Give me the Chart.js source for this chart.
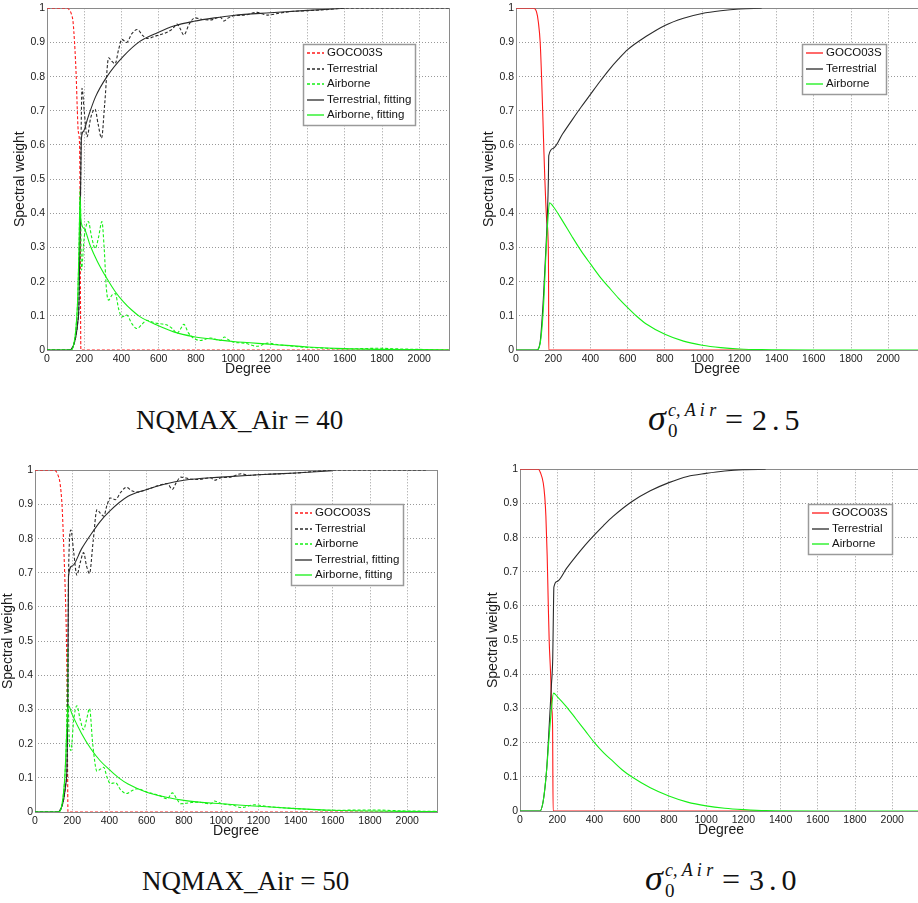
<!DOCTYPE html>
<html lang="en">
<head>
  <meta charset="UTF-8">
  <title>Spectral weights</title>
  <script src="https://cdn.jsdelivr.net/npm/chart.js"></script>
  <style>
    body { margin: 0; width: 918px; height: 903px; overflow: hidden; background: #fff; position: relative; }
    .panel { position: absolute; width: 460px; height: 380px; }
    .cap { position: absolute; font-family: "Liberation Serif", "DejaVu Serif", serif; color: #111; line-height: 1; white-space: pre; }
    .it { font-style: italic; }
  </style>
</head>
<body>
  <div class="panel" style="left:0px; top:0px;"><canvas id="nq40" width="460" height="380"></canvas></div>
  <div class="panel" style="left:469px; top:0px;"><canvas id="s25" width="460" height="380"></canvas></div>
  <div class="panel" style="left:-12px; top:462px;"><canvas id="nq50" width="460" height="380"></canvas></div>
  <div class="panel" style="left:473px; top:461px;"><canvas id="s30" width="460" height="380"></canvas></div>

  <div class="cap" style="left:136px; top:407px; font-size:27px;">NQMAX_Air = 40</div>
  <div class="cap" style="left:142px; top:868px; font-size:27px;">NQMAX_Air = 50</div>

  <!-- sigma_0^{c,Air} = 2.5 -->
  <span class="cap it" style="left:648px; top:400px; font-size:36px;">σ</span>
  <span class="cap" style="left:668px; top:421px; font-size:19px;">0</span>
  <span class="cap it" style="left:668px; top:401px; font-size:18px;">c, A i r</span>
  <span class="cap" style="left:725px; top:403px; font-size:32px;">=</span>
  <span class="cap" style="left:752px; top:405px; font-size:30px; letter-spacing:5px;">2.5</span>

  <!-- sigma_0^{c,Air} = 3.0 -->
  <span class="cap it" style="left:645px; top:860px; font-size:36px;">σ</span>
  <span class="cap" style="left:665px; top:881px; font-size:19px;">0</span>
  <span class="cap it" style="left:665px; top:861px; font-size:18px;">c, A i r</span>
  <span class="cap" style="left:722px; top:863px; font-size:32px;">=</span>
  <span class="cap" style="left:749px; top:865px; font-size:30px; letter-spacing:5px;">3.0</span>

  <script>
    // [degree, spectral weight] pairs

    // NQMAX_Air = 40
    const nq40Goco = [[0,1],[110,1],[120,0.995],[130,0.985],[140,0.96],[148,0.9],[153,0.85],[157,0.8],[163,0.7],[168,0.64],[175,0.6],[178,0.4],[180,0.14],[182,0],[2160,0]];
    const nq40Terr = [[0,0],[120,0],[140,0.01],[155,0.04],[165,0.08],[172,0.14],[180,0.45],[183,0.62],[188,0.766],[200,0.7],[215,0.624],[235,0.68],[258,0.705],[275,0.66],[293,0.62],[310,0.72],[331,0.855],[348,0.845],[366,0.838],[385,0.88],[402,0.909],[428,0.9],[455,0.925],[485,0.938],[515,0.92],[540,0.912],[590,0.92],[645,0.93],[675,0.94],[699,0.954],[716,0.94],[735,0.922],[765,0.955],[795,0.972],[830,0.968],[878,0.966],[932,0.974],[950,0.963],[975,0.972],[1004,0.978],[1060,0.98],[1130,0.988],[1184,0.98],[1250,0.986],[1300,0.99],[1400,0.993],[1500,0.996],[1600,1],[2160,1]];
    const nq40Air = [[0,0],[130,0],[145,0.02],[155,0.06],[165,0.15],[172,0.3],[178,0.47],[181,0.4],[185,0.234],[200,0.33],[222,0.376],[240,0.33],[259,0.297],[277,0.33],[295,0.376],[307,0.3],[319,0.18],[331,0.146],[348,0.16],[367,0.165],[385,0.12],[402,0.097],[429,0.102],[455,0.078],[483,0.063],[510,0.075],[537,0.087],[565,0.082],[591,0.078],[620,0.076],[645,0.073],[675,0.062],[699,0.049],[716,0.06],[735,0.075],[760,0.05],[789,0.034],[824,0.028],[878,0.035],[932,0.028],[954,0.038],[975,0.03],[1004,0.023],[1060,0.02],[1130,0.011],[1184,0.02],[1250,0.015],[1364,0.009],[1500,0.005],[1600,0.003],[1780,0.005],[1900,0.003],[2160,0]];
    const nq40TerrFit = [[0,0],[120,0],[140,0.01],[155,0.04],[165,0.08],[172,0.14],[180,0.45],[185,0.62],[196,0.64],[220,0.68],[260,0.74],[322,0.8],[411,0.86],[501,0.904],[591,0.928],[681,0.948],[789,0.962],[900,0.972],[1000,0.979],[1200,0.987],[1400,0.994],[1600,1]];
    const nq40AirFit = [[0,0],[130,0],[145,0.02],[155,0.06],[165,0.15],[172,0.3],[178,0.45],[182,0.38],[200,0.355],[232,0.306],[270,0.26],[322,0.209],[365,0.172],[411,0.141],[455,0.117],[501,0.097],[591,0.073],[681,0.053],[789,0.039],[900,0.031],[1000,0.025],[1200,0.017],[1400,0.009],[1600,0.004],[2160,0]];

    // NQMAX_Air = 50
    const nq50Goco = [[0,1],[105,1],[120,0.99],[135,0.96],[145,0.9],[150,0.84],[155,0.77],[160,0.69],[165,0.6],[170,0.47],[173,0.3],[175,0.14],[177,0],[2160,0]];
    const nq50Terr = [[0,0],[120,0],[140,0.01],[155,0.04],[165,0.08],[172,0.13],[176,0.3],[180,0.69],[193,0.825],[208,0.76],[225,0.693],[243,0.73],[261,0.759],[277,0.72],[293,0.698],[312,0.79],[333,0.885],[350,0.875],[369,0.866],[388,0.9],[405,0.919],[432,0.914],[460,0.935],[491,0.95],[520,0.94],[549,0.936],[603,0.944],[660,0.955],[711,0.961],[738,0.944],[760,0.965],[783,0.98],[830,0.975],[873,0.973],[945,0.978],[963,0.971],[1000,0.978],[1050,0.98],[1107,0.99],[1150,0.985],[1200,0.987],[1400,0.992],[1600,1],[2100,1]];
    const nq50Air = [[0,0],[125,0],[140,0.01],[150,0.04],[160,0.1],[168,0.2],[173,0.35],[176,0.48],[180,0.3],[185,0.2],[193,0.18],[208,0.27],[225,0.311],[243,0.27],[261,0.241],[277,0.27],[293,0.303],[310,0.2],[333,0.119],[350,0.125],[369,0.131],[388,0.1],[405,0.083],[432,0.086],[460,0.065],[491,0.054],[520,0.062],[549,0.068],[603,0.058],[666,0.049],[711,0.039],[738,0.056],[760,0.04],[783,0.024],[830,0.027],[873,0.029],[945,0.024],[963,0.032],[1000,0.025],[1071,0.019],[1107,0.013],[1179,0.021],[1250,0.016],[1400,0.01],[1600,0.005],[1800,0.006],[2000,0.003],[2160,0.002]];
    const nq50TerrFit = [[0,0],[120,0],[140,0.01],[155,0.04],[165,0.08],[172,0.13],[176,0.3],[180,0.69],[200,0.72],[250,0.77],[300,0.812],[350,0.85],[400,0.88],[500,0.924],[600,0.944],[700,0.96],[800,0.971],[1000,0.98],[1200,0.987],[1400,0.992],[1600,0.999]];
    const nq50AirFit = [[0,0],[125,0],[140,0.01],[150,0.04],[160,0.1],[168,0.2],[176,0.3],[180,0.311],[200,0.285],[250,0.23],[300,0.185],[350,0.15],[400,0.124],[450,0.1],[500,0.082],[600,0.058],[700,0.044],[800,0.034],[1000,0.024],[1200,0.017],[1400,0.01],[1600,0.005],[2160,0.001]];

    // sigma_0 = 2.5
    const s25Goco = [[0,1],[95,1],[110,0.99],[120,0.96],[130,0.9],[138,0.79],[145,0.67],[150,0.58],[155,0.5],[160,0.43],[165,0.38],[172,0.33],[175,0.2],[176,0],[1320,0]];
    const s25Terr = [[0,0],[110,0],[129,0.02],[147,0.15],[161,0.3],[169,0.4],[174,0.5],[176,0.569],[200,0.59],[250,0.632],[300,0.672],[350,0.711],[400,0.748],[450,0.785],[500,0.82],[550,0.851],[600,0.879],[700,0.918],[800,0.95],[900,0.971],[1000,0.985],[1100,0.993],[1200,0.998],[1320,1]];
    const s25Air = [[0,0],[110,0],[130,0.02],[147,0.12],[160,0.27],[170,0.37],[180,0.431],[200,0.42],[250,0.378],[300,0.333],[350,0.29],[400,0.252],[450,0.215],[500,0.183],[550,0.152],[600,0.124],[650,0.098],[700,0.076],[800,0.046],[900,0.026],[1000,0.014],[1100,0.007],[1200,0.003],[1320,0.001],[1600,0],[2160,0]];

    // sigma_0 = 3.0
    const s30Goco = [[0,1],[98,1],[110,0.99],[125,0.96],[133,0.92],[139,0.864],[146,0.748],[152,0.602],[157,0.495],[164,0.408],[171,0.3],[175,0.25],[178,0],[1320,0]];
    const s30Terr = [[0,0],[107,0],[125,0.03],[143,0.12],[157,0.25],[169,0.37],[176,0.45],[180,0.6],[182,0.655],[200,0.672],[250,0.71],[300,0.745],[350,0.778],[400,0.808],[450,0.836],[500,0.862],[600,0.905],[700,0.937],[800,0.961],[900,0.979],[1000,0.988],[1100,0.995],[1200,0.999],[1320,1]];
    const s30Air = [[0,0],[107,0],[125,0.03],[143,0.12],[157,0.22],[169,0.3],[180,0.345],[200,0.335],[250,0.305],[300,0.27],[350,0.235],[400,0.2],[450,0.17],[500,0.145],[550,0.12],[600,0.1],[700,0.068],[800,0.044],[900,0.026],[1000,0.015],[1100,0.008],[1200,0.004],[1320,0.001],[1600,0],[2160,0]];

    // axis ticks
    const degreeTicks = [0, 200, 400, 600, 800, 1000, 1200, 1400, 1600, 1800, 2000];
    const weightTicks = [0, 0.1, 0.2, 0.3, 0.4, 0.5, 0.6, 0.7, 0.8, 0.9, 1];
    const DEG_MAX = 2160;

    const RED = '#ff1a1a', BLACK = '#2b2b2b', GREEN = '#16f016';
    const DASH = [3, 2];

    Chart.defaults.font.family = '"Liberation Sans", Arial, sans-serif';
    Chart.defaults.color = '#1a1a1a';

    // axes box
    const frame = {
      id: 'frame',
      beforeDatasetsDraw(chart) {
        const { ctx, chartArea: a } = chart;
        ctx.save();
        ctx.strokeStyle = '#8a8a8a';
        ctx.lineWidth = 1;
        ctx.strokeRect(Math.round(a.left) + 0.5, Math.round(a.top) + 0.5, Math.round(a.right - a.left), Math.round(a.bottom - a.top));
        ctx.restore();
      }
    };

    // matlab-style legend box inside the axes
    const boxLegend = {
      id: 'boxLegend',
      afterDraw(chart, args, opts) {
        const { ctx, chartArea } = chart;
        const sets = chart.data.datasets;
        const rowH = 15.5;
        ctx.save();
        ctx.font = '11.5px "Liberation Sans", Arial, sans-serif';
        const textW = Math.max(...sets.map(d => ctx.measureText(d.label).width));
        const w = Math.round(24 + textW + 4);
        const h = Math.round(sets.length * rowH + 3);
        const x = Math.round(chartArea.right - opts.right - w);
        const y = Math.round(chartArea.top + opts.top);
        ctx.fillStyle = '#fff';
        ctx.fillRect(x, y, w, h);
        ctx.strokeStyle = '#9a9a9a';
        ctx.lineWidth = 1.5;
        ctx.strokeRect(x + 0.5, y + 0.5, w, h);
        sets.forEach((d, i) => {
          const cy = Math.round(y + 1.5 + rowH * (i + 0.5));
          ctx.lineWidth = 1.3;
          ctx.strokeStyle = d.lineColor;
          ctx.setLineDash(d.lineDash);
          ctx.beginPath();
          ctx.moveTo(x + 4, cy);
          ctx.lineTo(x + 21, cy);
          ctx.stroke();
          ctx.setLineDash([]);
          ctx.fillStyle = '#111';
          ctx.textBaseline = 'middle';
          ctx.fillText(d.label, x + 24, cy);
        });
        ctx.restore();
      }
    };

    function line(label, pts, color, dash) {
      return {
        label,
        lineColor: color,
        lineDash: dash || [],
        data: pts.map(([x, y]) => ({ x, y })),
        borderColor: color,
        borderDash: dash || [],
        borderWidth: 1.1,
        pointRadius: 0,
        cubicInterpolationMode: 'monotone',
        fill: false
      };
    }

    const gridStyle = { color: 'rgba(0,0,0,0.4)', drawTicks: false, lineWidth: 1 };

    function panel(id, sets, legendPos) {
      // later series sit on top, first series at the bottom
      sets.forEach((s, i) => { s.order = sets.length - i; });
      return new Chart(document.getElementById(id), {
        type: 'line',
        data: { datasets: sets },
        options: {
          responsive: false,
          animation: false,
          devicePixelRatio: 1,
          layout: { padding: { top: 7, right: 11, left: 0, bottom: 0 } },
          plugins: { legend: { display: false }, tooltip: { enabled: false }, boxLegend: legendPos },
          scales: {
            x: {
              type: 'linear', min: 0, max: DEG_MAX,
              afterBuildTicks: s => { s.ticks = degreeTicks.map(v => ({ value: v })); },
              afterFit: s => { s.height = 30; },
              border: { display: false, dash: [1, 2] },
              grid: gridStyle,
              ticks: { maxRotation: 0, autoSkip: false, padding: 3, font: { size: 10.5 }, callback: v => String(v) },
              title: { display: true, text: 'Degree', font: { size: 14 }, padding: { top: 0, bottom: 2 } }
            },
            y: {
              type: 'linear', min: 0, max: 1,
              afterBuildTicks: s => { s.ticks = weightTicks.map(v => ({ value: v })); },
              afterFit: s => { s.width = 47; },
              border: { display: false, dash: [1, 2] },
              grid: gridStyle,
              ticks: { autoSkip: false, padding: 2, font: { size: 10.5 }, callback: v => String(v) },
              title: { display: true, text: 'Spectral weight', font: { size: 14 }, padding: { top: 12, bottom: 0 } }
            }
          }
        },
        plugins: [frame, boxLegend]
      });
    }

    panel('nq40', [
      line('GOCO03S', nq40Goco, RED, DASH),
      line('Terrestrial', nq40Terr, BLACK, DASH),
      line('Airborne', nq40Air, GREEN, DASH),
      line('Terrestrial, fitting', nq40TerrFit, BLACK),
      line('Airborne, fitting', nq40AirFit, GREEN)
    ], { right: 34, top: 36 });

    panel('s25', [
      line('GOCO03S', s25Goco, RED),
      line('Terrestrial', s25Terr, BLACK),
      line('Airborne', s25Air, GREEN)
    ], { right: 32, top: 36 });

    panel('nq50', [
      line('GOCO03S', nq50Goco, RED, DASH),
      line('Terrestrial', nq50Terr, BLACK, DASH),
      line('Airborne', nq50Air, GREEN, DASH),
      line('Terrestrial, fitting', nq50TerrFit, BLACK),
      line('Airborne, fitting', nq50AirFit, GREEN)
    ], { right: 34, top: 34 });

    panel('s30', [
      line('GOCO03S', s30Goco, RED),
      line('Terrestrial', s30Terr, BLACK),
      line('Airborne', s30Air, GREEN)
    ], { right: 30, top: 35 });
  </script>
</body>
</html>
